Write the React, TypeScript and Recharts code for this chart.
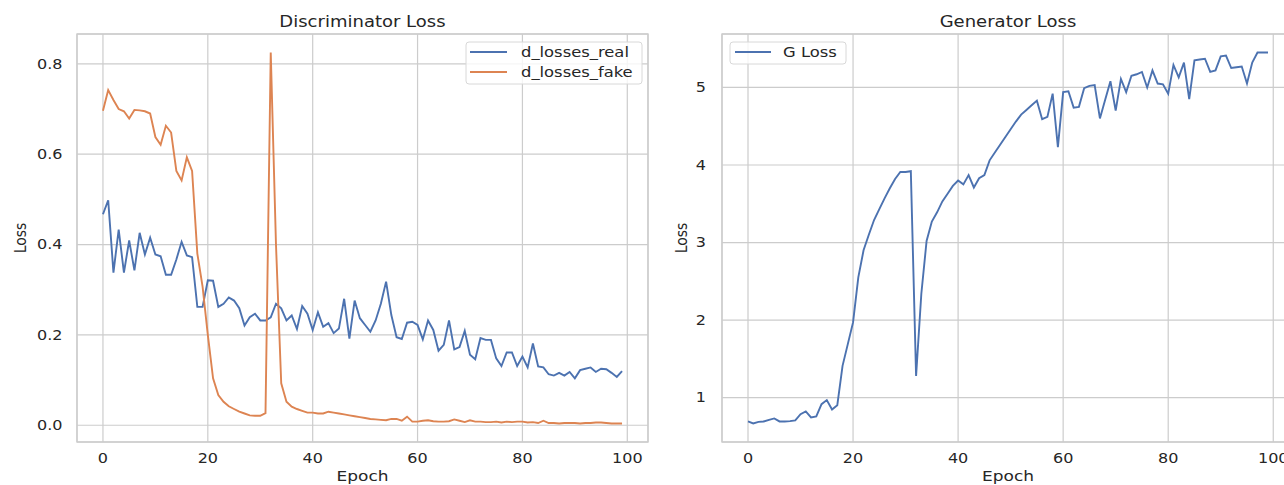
import React from 'react';
import { LineChart, Line, XAxis, YAxis, CartesianGrid, ReferenceArea } from 'recharts';

// epochs 0..99
const epochs = Array.from({ length: 100 }, (_, i) => i);

const dLossesReal = [
  0.467, 0.498, 0.338, 0.433, 0.338, 0.409, 0.343, 0.426, 0.378, 0.415,
  0.378, 0.374, 0.333, 0.333, 0.367, 0.406, 0.376, 0.372, 0.262, 0.262,
  0.321, 0.32, 0.262, 0.269, 0.283, 0.276, 0.259, 0.221, 0.239, 0.247,
  0.232, 0.232, 0.239, 0.269, 0.259, 0.232, 0.243, 0.213, 0.264, 0.247,
  0.211, 0.25, 0.218, 0.226, 0.204, 0.214, 0.28, 0.192, 0.276, 0.237,
  0.222, 0.207, 0.232, 0.269, 0.318, 0.244, 0.195, 0.191, 0.227, 0.229,
  0.222, 0.19, 0.232, 0.211, 0.165, 0.178, 0.232, 0.168, 0.173, 0.209,
  0.156, 0.146, 0.193, 0.189, 0.189, 0.148, 0.131, 0.161, 0.161, 0.131,
  0.152, 0.128, 0.181, 0.13, 0.128, 0.113, 0.11, 0.116, 0.11, 0.118,
  0.104, 0.122, 0.125, 0.128, 0.118, 0.125, 0.124, 0.116, 0.107, 0.12,
];

const dLossesFake = [
  0.696, 0.742, 0.72, 0.7, 0.695, 0.679, 0.698, 0.697, 0.695, 0.69,
  0.638, 0.621, 0.663, 0.648, 0.563, 0.542, 0.593, 0.563, 0.38, 0.307,
  0.2, 0.104, 0.067, 0.052, 0.042, 0.036, 0.03, 0.026, 0.022, 0.021,
  0.021, 0.027, 0.825, 0.4, 0.093, 0.052, 0.041, 0.036, 0.032, 0.028,
  0.028, 0.026, 0.026, 0.03, 0.028, 0.026, 0.024, 0.022, 0.02, 0.018,
  0.016, 0.014, 0.013, 0.012, 0.011, 0.014, 0.014, 0.01, 0.019, 0.008,
  0.008, 0.01, 0.011, 0.009, 0.008, 0.008, 0.009, 0.013, 0.01, 0.007,
  0.011, 0.008, 0.008, 0.007, 0.007, 0.008, 0.006, 0.008, 0.007, 0.008,
  0.008, 0.006, 0.007, 0.005, 0.01, 0.005, 0.005, 0.004, 0.005, 0.005,
  0.005, 0.004, 0.005, 0.005, 0.006, 0.006, 0.005, 0.004, 0.004, 0.004,
];

const gLoss = [
  0.693, 0.667, 0.688, 0.693, 0.714, 0.732, 0.693, 0.693, 0.697, 0.706,
  0.787, 0.822, 0.745, 0.757, 0.916, 0.968, 0.847, 0.903, 1.41, 1.69,
  1.97, 2.55, 2.9, 3.1, 3.29, 3.43, 3.57, 3.7, 3.82, 3.91,
  3.91, 3.92, 1.28, 2.34, 3.02, 3.27, 3.39, 3.53, 3.63, 3.73,
  3.8, 3.75, 3.87, 3.71, 3.83, 3.87, 4.06, 4.16, 4.26, 4.36,
  4.46, 4.56, 4.65, 4.71, 4.77, 4.83, 4.59, 4.62, 4.92, 4.23,
  4.94, 4.95, 4.74, 4.75, 4.99, 5.02, 5.03, 4.6, 4.84, 5.08,
  4.7, 5.11, 4.94, 5.15, 5.17, 5.2, 5.0, 5.22, 5.05, 5.04,
  4.92, 5.29, 5.13, 5.32, 4.85, 5.35, 5.36, 5.37, 5.2, 5.22,
  5.4, 5.41, 5.25, 5.26, 5.27, 5.05, 5.32, 5.45, 5.45, 5.45,
];

const epochTicks = [0, 20, 40, 60, 80, 100];
const dTicks = [0, 0.2, 0.4, 0.6, 0.8];
const gTicks = [1, 2, 3, 4, 5];

const BLUE = '#4c72b0';
const ORANGE = '#dd8452';
const GRID = '#cccccc';
const TEXT = '#262626';
const FONT = '"DejaVu Sans", sans-serif';
const SX = 1.17; // the source picture is stretched sideways a bit

const dData = epochs.map((e, i) => ({ epoch: e, real: dLossesReal[i], fake: dLossesFake[i] }));
const gData = epochs.map((e, i) => ({ epoch: e, g: gLoss[i] }));

// matplotlib style 5% margins
const pad = (lo: number, hi: number): [number, number] => {
  const m = (hi - lo) * 0.05;
  return [lo - m, hi + m];
};
const xDomain = pad(epochs[0], epochs[epochs.length - 1]);
const dDomain = pad(
  Math.min(...dLossesReal, ...dLossesFake),
  Math.max(...dLossesReal, ...dLossesFake)
);
const gDomain = pad(Math.min(...gLoss), Math.max(...gLoss));

const Tick = (props: any) => {
  const { x, y, payload, textAnchor, axis, digits } = props;
  const v = digits ? Number(payload.value).toFixed(digits) : String(payload.value);
  return (
    <g transform={`translate(${x},${y}) scale(${SX},1)`}>
      <text
        textAnchor={textAnchor}
        dy={axis === 'x' ? '0.71em' : '0.355em'}
        fill={TEXT}
        fontSize={13.7}
        fontFamily={FONT}
      >
        {v}
      </text>
    </g>
  );
};

const Txt = ({ x, y, size, anchor = 'start', rotate = 0, children }: any) => (
  <text
    transform={`translate(${x},${y}) scale(${SX},1)${rotate ? ` rotate(${rotate})` : ''}`}
    textAnchor={anchor}
    fontSize={size}
    fontFamily={FONT}
    fill={TEXT}
  >
    {children}
  </text>
);

const App: React.FC = () => {
  return (
    <div
      style={{
        position: 'absolute',
        left: 0,
        top: 0,
        width: 1284,
        height: 485,
        overflow: 'hidden',
        background: '#fff',
      }}
    >
      {/* Discriminator */}
      <div style={{ position: 'absolute', left: 0, top: 0 }}>
        <LineChart width={660} height={485} data={dData} margin={{ top: 34, right: 12, bottom: 0, left: 0 }}>
          <CartesianGrid stroke={GRID} strokeWidth={1.2} />
          <ReferenceArea
            x1={xDomain[0]}
            x2={xDomain[1]}
            y1={dDomain[0]}
            y2={dDomain[1]}
            fill="none"
            stroke={GRID}
            strokeWidth={1.3}
          />
          <XAxis
            dataKey="epoch"
            type="number"
            domain={xDomain}
            ticks={epochTicks}
            allowDataOverflow
            axisLine={false}
            tickLine={false}
            tickSize={0}
            tickMargin={11}
            height={43}
            tick={<Tick axis="x" />}
          />
          <YAxis
            type="number"
            domain={dDomain}
            ticks={dTicks}
            allowDataOverflow
            axisLine={false}
            tickLine={false}
            tickSize={0}
            tickMargin={14.5}
            width={77}
            tick={<Tick axis="y" digits={1} />}
          />
          <Line type="linear" dataKey="real" stroke={BLUE} strokeWidth={1.9} dot={false} isAnimationActive={false} />
          <Line type="linear" dataKey="fake" stroke={ORANGE} strokeWidth={1.9} dot={false} isAnimationActive={false} />
        </LineChart>
      </div>

      {/* Generator */}
      <div style={{ position: 'absolute', left: 640, top: 0 }}>
        <LineChart width={654} height={485} data={gData} margin={{ top: 34, right: 0, bottom: 0, left: 0 }}>
          <CartesianGrid stroke={GRID} strokeWidth={1.2} />
          <ReferenceArea
            x1={xDomain[0]}
            x2={xDomain[1]}
            y1={gDomain[0]}
            y2={gDomain[1]}
            fill="none"
            stroke={GRID}
            strokeWidth={1.3}
          />
          <XAxis
            dataKey="epoch"
            type="number"
            domain={xDomain}
            ticks={epochTicks}
            allowDataOverflow
            axisLine={false}
            tickLine={false}
            tickSize={0}
            tickMargin={11}
            height={43}
            tick={<Tick axis="x" />}
          />
          <YAxis
            type="number"
            domain={gDomain}
            ticks={gTicks}
            allowDataOverflow
            axisLine={false}
            tickLine={false}
            tickSize={0}
            tickMargin={16}
            width={82}
            tick={<Tick axis="y" />}
          />
          <Line type="linear" dataKey="g" stroke={BLUE} strokeWidth={1.9} dot={false} isAnimationActive={false} />
        </LineChart>
      </div>

      {/* titles, axis labels, legends */}
      <svg
        width={1284}
        height={485}
        style={{ position: 'absolute', left: 0, top: 0, pointerEvents: 'none' }}
      >
        <Txt x={362.5} y={27} size={15.4} anchor="middle">Discriminator Loss</Txt>
        <Txt x={1008} y={27} size={15.4} anchor="middle">Generator Loss</Txt>
        <Txt x={362.5} y={481} size={14.5} anchor="middle">Epoch</Txt>
        <Txt x={1008} y={481} size={14.5} anchor="middle">Epoch</Txt>
        <Txt x={26} y={238} size={14} anchor="middle" rotate={-90}>Loss</Txt>
        <Txt x={686.5} y={238} size={14} anchor="middle" rotate={-90}>Loss</Txt>

        <rect x={466} y={42} width={176} height={42} rx={3} fill="#fff" fillOpacity={0.8} stroke="#d8d8d8" />
        <line x1={470} x2={507} y1={52} y2={52} stroke={BLUE} strokeWidth={1.9} />
        <line x1={470} x2={507} y1={72} y2={72} stroke={ORANGE} strokeWidth={1.9} />
        <Txt x={521} y={57} size={14}>d_losses_real</Txt>
        <Txt x={521} y={77} size={14}>d_losses_fake</Txt>

        <rect x={730} y={42} width={116} height={22} rx={3} fill="#fff" fillOpacity={0.8} stroke="#d8d8d8" />
        <line x1={735} x2={771} y1={52} y2={52} stroke={BLUE} strokeWidth={1.9} />
        <Txt x={783} y={57} size={14}>G Loss</Txt>
      </svg>
    </div>
  );
};

export default App;
